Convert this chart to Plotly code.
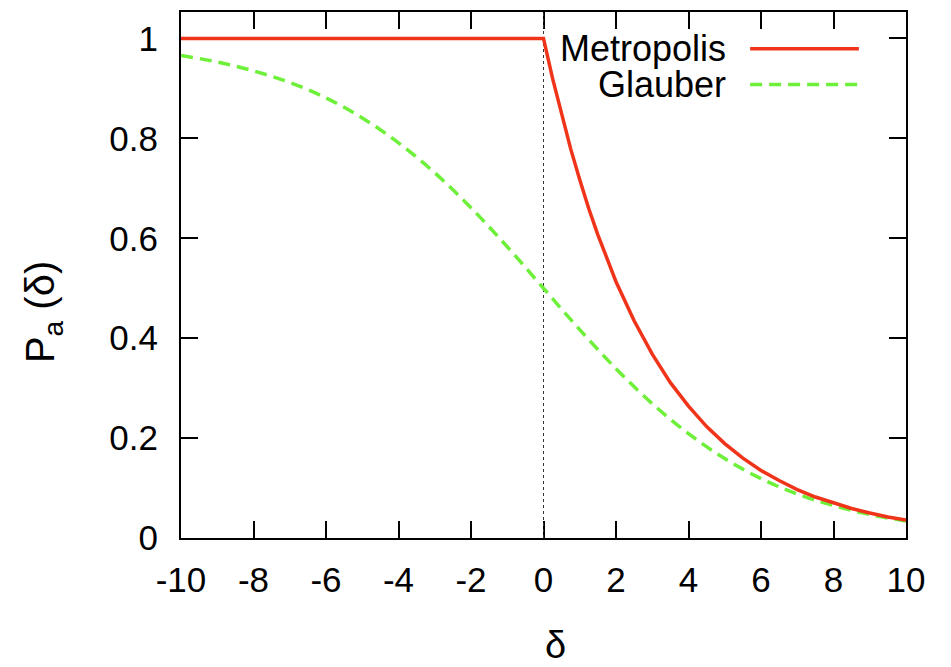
import plotly.graph_objects as go

# Values
delta_metro = [-10, -8, -6, -4, -2, 0, 0.25, 0.5, 0.75, 1, 1.25, 1.5, 1.75, 2, 2.5, 3, 3.5, 4, 4.5, 5, 5.5, 6, 6.5, 7, 7.5, 8, 8.5, 9, 9.5, 10]
p_metro = [1.0, 1.0, 1.0, 1.0, 1.0, 1.0, 0.920, 0.846, 0.779, 0.717, 0.659, 0.607, 0.558, 0.513, 0.435, 0.368, 0.311, 0.264, 0.223, 0.189, 0.160, 0.135, 0.115, 0.097, 0.082, 0.070, 0.059, 0.050, 0.042, 0.036]

delta_glauber = [-10, -9, -8, -7, -6, -5, -4, -3, -2, -1, 0, 1, 2, 3, 4, 5, 6, 7, 8, 9, 10]
p_glauber = [0.966, 0.953, 0.935, 0.912, 0.881, 0.841, 0.791, 0.731, 0.661, 0.583, 0.500, 0.417, 0.339, 0.269, 0.209, 0.159, 0.119, 0.088, 0.065, 0.047, 0.034]

x_ticks = [-10, -8, -6, -4, -2, 0, 2, 4, 6, 8, 10]
x_tick_labels = ["-10", "-8", "-6", "-4", "-2", "0", "2", "4", "6", "8", "10"]
y_ticks = [0, 0.2, 0.4, 0.6, 0.8, 1]
y_tick_labels = ["0", "0.2", "0.4", "0.6", "0.8", "1"]
series_names = ["Metropolis", "Glauber"]
x_title = "δ"
y_title = "P<sub>a</sub> (δ)"

RED = "#f0341a"
GREEN = "#6ef03a"
FONT = "Liberation Sans, Arial, sans-serif"
DASH = "12px,7px"

fig = go.Figure()

# dotted vertical line at delta = 0
fig.add_trace(go.Scatter(x=[0, 0], y=[0, 1.053], mode="lines",
                         line=dict(color="#333333", width=1, dash="dot"),
                         showlegend=False, hoverinfo="skip"))

fig.add_trace(go.Scatter(x=delta_glauber, y=p_glauber, mode="lines", name=series_names[1],
                         line=dict(color=GREEN, width=3.5, dash=DASH, shape="spline", smoothing=1.0),
                         showlegend=False))
fig.add_trace(go.Scatter(x=delta_metro, y=p_metro, mode="lines", name=series_names[0],
                         line=dict(color=RED, width=3.5),
                         showlegend=False))

# gnuplot-style legend: text right-aligned, sample on the right
leg_y = [0.930, 0.862]
leg_styles = [dict(color=RED, width=3.5), dict(color=GREEN, width=3.5, dash=DASH)]
for name, yy, st in zip(series_names, leg_y, leg_styles):
    fig.add_annotation(x=0.7545, y=yy, xref="paper", yref="paper", text=name,
                       showarrow=False, xanchor="right", yanchor="middle",
                       font=dict(family=FONT, size=36, color="black"))
    fig.add_shape(type="line", xref="paper", yref="paper", x0=0.785, x1=0.935, y0=yy, y1=yy,
                  line=st)

# axis titles (placed like the gnuplot original)
fig.add_annotation(x=0.516, y=-0.2027, xref="paper", yref="paper", text=x_title, showarrow=False,
                   xanchor="center", yanchor="middle", font=dict(family=FONT, size=38, color="black"))
fig.add_annotation(x=-0.19, y=0.43, xref="paper", yref="paper", text=y_title, showarrow=False,
                   textangle=-90, xanchor="center", yanchor="middle",
                   font=dict(family=FONT, size=40, color="black"))

fig.update_xaxes(range=[-10, 10], tickvals=x_ticks, ticktext=x_tick_labels, ticks="inside", ticklen=17,
                 tickwidth=2, tickcolor="black", showline=True, linecolor="black", linewidth=2,
                 mirror="ticks", showgrid=False, zeroline=False, ticklabelstandoff=10,
                 layer="below traces",
                 tickfont=dict(family=FONT, size=35, color="black"))
fig.update_yaxes(range=[0, 1.053], tickvals=y_ticks, ticktext=y_tick_labels, ticks="inside", ticklen=17,
                 tickwidth=2, tickcolor="black", showline=True, linecolor="black", linewidth=2,
                 mirror="ticks", showgrid=False, zeroline=False, ticklabelstandoff=14,
                 layer="below traces",
                 tickfont=dict(family=FONT, size=35, color="black"))

fig.update_layout(width=951, height=667, margin=dict(l=181, r=45, t=10, b=129),
                  plot_bgcolor="white", paper_bgcolor="white", showlegend=False)

fig.write_html("out.html")
